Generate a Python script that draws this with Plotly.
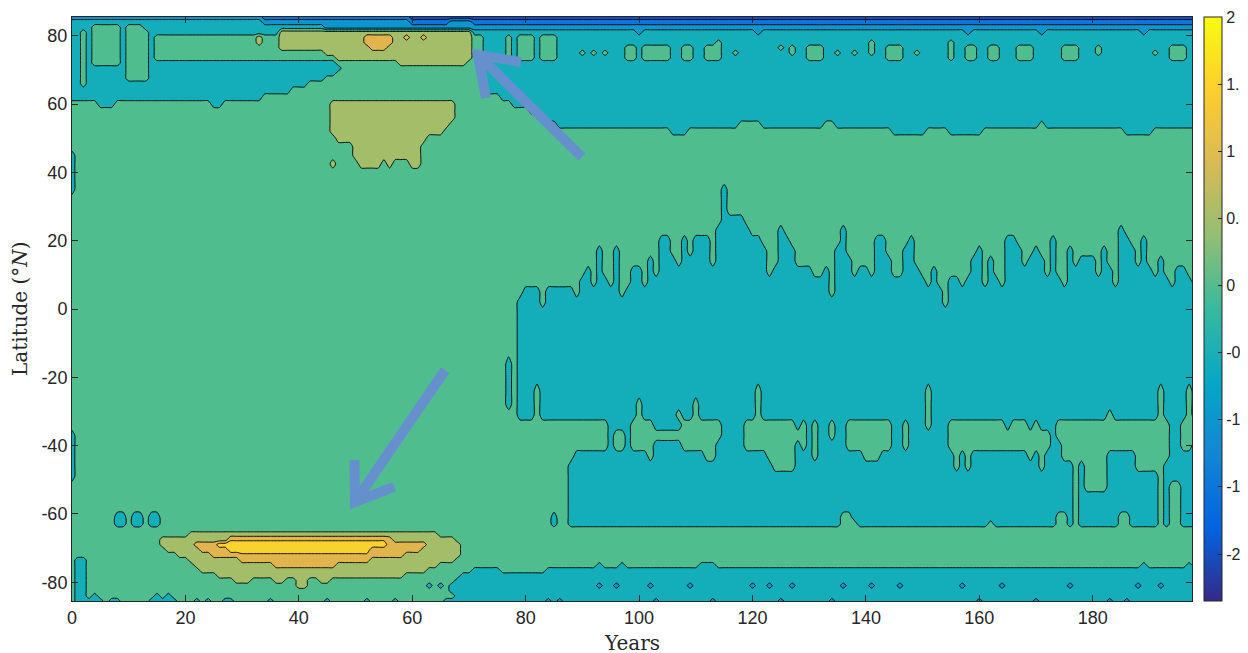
import plotly.graph_objects as go

# ---------------- data ----------------
YEARS = list(range(0, 199))          # model years (columns of the field)

# latitude of each row of the field (north -> south)
LATITUDES = [85.5, 84, 82.5, 81, 79.5, 78, 76.5, 75, 73.5, 72,
             70.5, 69, 67.5, 66, 64, 62, 60, 58, 56, 54,
             52, 50, 47.5, 45, 42.5, 40, 38, 35, 32, 29,
             26, 23, 20, 17, 14, 11, 8, 5, 2, -1,
             -4, -8, -12, -16, -20, -24, -28, -31, -34, -37,
             -40, -43, -46, -49, -52, -55, -58, -61, -63, -64.5,
             -66, -67.5, -69, -70.5, -72, -73.5, -75, -76.5, -78, -79.5,
             -81, -82.5, -84, -85.5]

# value of each band letter (band centres between contour levels; R = orange close to yellow)
BAND_VALUES = {"D": -2.25, "C": -1.75, "B": -1.25, "A": -0.75, "t": -0.25,
               "g": 0.25, "o": 0.75, "r": 1.25, "R": 1.42, "y": 1.75}

# each row: "letter:last_year" runs, read across the picture from year 0 to 198
ROW_BANDS = [
    "A:33 B:59 C:198",                                                        # 85.5
    "t:33 A:59 B:66 A:70 B:198",                                              # 84
    "t:3 g:8 t:9 g:12 t:44 A:198",                                            # 82.5
    "t:1 g:2 t:3 g:8 t:9 g:13 t:36 o:70 t:99 A:100 t:120 A:121 t:157 A:158 t:170 A:171 t:188 A:189 t:198",  # 81
    "t:1 g:2 t:3 g:8 t:9 g:13 t:14 g:32 o:33 g:36 o:51 r:56 o:58 r:59 o:61 r:62 o:70 g:72 t:76 g:77 t:78 g:81 t:82 g:85 t:198",  # 79.5
    "t:1 g:2 t:3 g:8 t:9 g:13 t:14 g:32 o:33 g:36 o:51 r:56 o:70 g:72 t:76 g:77 t:78 g:81 t:82 g:85 t:113 g:114 t:140 g:141 t:154 g:155 t:198",  # 78
    "t:1 g:2 t:3 g:8 t:9 g:13 t:14 g:36 o:52 r:55 o:70 g:72 t:76 g:77 t:78 g:81 t:82 g:85 t:97 g:99 t:100 g:105 t:107 g:109 t:111 g:114 t:124 g:125 t:126 g:127 t:129 g:132 t:140 g:141 t:143 g:146 t:154 g:155 t:157 g:159 t:161 g:163 t:166 g:169 t:174 g:177 t:180 g:181 t:193 g:196 t:198",  # 76.5
    "t:1 g:2 t:3 g:8 t:9 g:13 t:14 g:44 o:70 g:72 t:76 g:77 t:78 g:81 t:82 g:85 t:89 g:90 t:91 g:92 t:93 g:94 t:97 g:99 t:100 g:105 t:107 g:109 t:111 g:114 t:116 g:117 t:126 g:127 t:129 g:132 t:134 g:135 t:137 g:138 t:140 g:141 t:143 g:146 t:148 g:149 t:154 g:155 t:157 g:159 t:161 g:163 t:166 g:169 t:174 g:177 t:180 g:181 t:190 g:191 t:193 g:196 t:198",  # 75
    "t:1 g:2 t:3 g:8 t:9 g:13 t:14 g:46 o:70 g:72 t:76 g:77 t:78 g:81 t:82 g:85 t:97 g:99 t:100 g:105 t:107 g:109 t:111 g:114 t:129 g:132 t:143 g:146 t:154 g:155 t:157 g:159 t:161 g:163 t:166 g:169 t:174 g:177 t:193 g:196 t:198",  # 73.5
    "t:1 g:2 t:3 g:8 t:9 g:13 t:46 g:57 o:69 g:72 t:198",                     # 72
    "t:1 g:2 t:9 g:13 t:47 g:72 t:198",                                       # 70.5
    "t:1 g:2 t:9 g:13 t:46 g:72 t:198",                                       # 69
    "t:1 g:2 t:9 g:13 t:44 g:72 t:198",                                       # 67.5
    "t:1 g:2 t:41 g:72 t:198",                                                # 66
    "t:38 g:72 t:198",                                                        # 64
    "t:33 g:75 t:198",                                                        # 62
    "g:4 t:7 g:24 t:26 g:45 o:67 g:77 t:198",                                 # 60
    "g:45 o:67 g:80 t:198",                                                   # 58
    "g:45 o:67 g:83 t:198",                                                   # 56
    "g:45 o:66 g:85 t:117 g:121 t:132 g:134 t:170 g:171 t:198",               # 54
    "g:45 o:65 g:105 t:108 g:144 t:150 g:154 t:160 g:185 t:190 g:198",        # 52
    "g:46 o:62 g:198",                                                        # 50
    "g:49 o:61 g:198",                                                        # 47.5
    "t:0 g:49 o:61 g:198",                                                    # 45
    "t:0 g:45 o:46 g:50 o:54 g:55 o:56 g:59 o:61 g:198",                      # 42.5
    "t:0 g:198",                                                              # 40
    "t:0 g:198",                                                              # 38
    "t:0 g:114 t:115 g:198",                                                  # 35
    "g:114 t:115 g:198",                                                      # 32
    "g:114 t:115 g:198",                                                      # 29
    "g:114 t:118 g:198",                                                      # 26
    "g:113 t:119 g:124 t:125 g:135 t:136 g:184 t:185 g:198",                  # 23
    "g:103 t:105 g:107 t:108 g:109 t:112 g:113 t:121 g:124 t:126 g:135 t:136 g:141 t:143 g:147 t:148 g:164 t:166 g:172 t:173 g:184 t:186 g:188 t:189 g:198",  # 20
    "g:92 t:93 g:95 t:96 g:103 t:105 g:107 t:108 g:109 t:112 g:113 t:122 g:124 t:127 g:134 t:136 g:141 t:143 g:146 t:148 g:159 t:160 g:164 t:167 g:169 t:170 g:172 t:173 g:175 t:176 g:181 t:182 g:184 t:187 g:188 t:189 g:198",  # 17
    "g:92 t:93 g:95 t:96 g:101 t:102 g:103 t:106 g:107 t:112 g:113 t:122 g:124 t:127 g:134 t:137 g:141 t:144 g:146 t:148 g:158 t:160 g:161 t:162 g:164 t:167 g:168 t:171 g:172 t:173 g:175 t:176 g:177 t:180 g:181 t:182 g:184 t:187 g:188 t:189 g:191 t:192 g:198",  # 14
    "g:90 t:91 g:92 t:93 g:95 t:96 g:98 t:100 g:101 t:102 g:103 t:122 g:123 t:130 g:132 t:133 g:134 t:137 g:138 t:140 g:141 t:144 g:146 t:149 g:151 t:152 g:158 t:160 g:161 t:162 g:164 t:171 g:172 t:173 g:175 t:180 g:181 t:183 g:184 t:190 g:191 t:192 g:194 t:196 g:198",  # 11
    "g:89 t:91 g:92 t:94 g:95 t:96 g:98 t:100 g:101 t:133 g:134 t:150 g:151 t:152 g:154 t:156 g:157 t:160 g:161 t:163 g:164 t:174 g:175 t:183 g:184 t:193 g:194 t:197 g:198",  # 8
    "g:79 t:82 g:83 t:88 g:89 t:96 g:97 t:133 g:134 t:153 g:154 t:198",       # 5
    "g:78 t:82 g:83 t:153 g:154 t:198",                                       # 2
    "g:78 t:198",                                                             # -1
    "g:78 t:198",                                                             # -4
    "g:78 t:198",                                                             # -8
    "g:78 t:198",                                                             # -12
    "g:76 t:77 g:78 t:198",                                                   # -16
    "g:76 t:77 g:78 t:198",                                                   # -20
    "g:76 t:77 g:78 t:81 g:82 t:120 g:121 t:150 g:151 t:191 g:192 t:196 g:197 t:198",  # -24
    "g:76 t:77 g:78 t:81 g:82 t:99 g:100 t:109 g:110 t:120 g:121 t:150 g:151 t:191 g:192 t:196 g:197 t:198",  # -28
    "g:78 t:81 g:82 t:99 g:100 t:106 g:107 t:109 g:110 t:120 g:121 t:150 g:151 t:182 g:183 t:191 g:192 t:196 g:197 t:198",  # -31
    "g:94 t:98 g:102 t:107 g:114 t:118 g:127 t:128 g:129 t:130 g:131 t:133 g:134 t:136 g:144 t:146 g:147 t:150 g:151 t:154 g:164 t:165 g:168 t:169 g:170 t:173 g:193 t:195 g:198",  # -34
    "t:0 g:94 t:95 g:97 t:98 g:114 t:118 g:129 t:130 g:131 t:133 g:134 t:136 g:144 t:146 g:147 t:154 g:172 t:173 g:193 t:195 g:198",  # -37
    "t:0 g:94 t:95 g:97 t:98 g:102 t:107 g:113 t:118 g:127 t:128 g:129 t:130 g:131 t:136 g:144 t:146 g:147 t:154 g:172 t:174 g:193 t:195 g:197 t:198",  # -40
    "t:0 g:88 t:101 g:102 t:111 g:113 t:122 g:127 t:130 g:131 t:139 g:142 t:155 g:156 t:157 g:158 t:168 g:169 t:170 g:171 t:174 g:182 t:187 g:193 t:198",  # -43
    "t:0 g:87 t:123 g:127 t:155 g:156 t:157 g:158 t:170 g:171 t:176 g:177 t:178 g:182 t:187 g:192 t:198",  # -46
    "t:0 g:87 t:176 g:177 t:178 g:182 t:191 g:192 t:198",                     # -49
    "g:87 t:176 g:177 t:178 g:182 t:191 g:192 t:193 g:195 t:198",             # -52
    "g:87 t:176 g:177 t:191 g:192 t:193 g:195 t:198",                         # -55
    "g:87 t:176 g:177 t:191 g:192 t:193 g:195 t:198",                         # -58
    "g:7 t:9 g:10 t:12 g:13 t:15 g:84 t:85 g:87 t:135 g:137 t:173 g:175 t:176 g:177 t:184 g:186 t:191 g:192 t:193 g:195 t:198",  # -61
    "g:7 t:9 g:10 t:12 g:13 t:15 g:84 t:85 g:87 t:135 g:138 t:161 g:162 t:173 g:175 t:176 g:177 t:184 g:186 t:191 g:192 t:193 g:195 t:198",  # -63
    "g:198",                                                                  # -64.5
    "g:20 o:64 g:198",                                                        # -66
    "g:15 o:27 R:55 r:56 o:67 g:198",                                         # -67.5
    "g:15 o:21 r:25 y:55 r:62 o:68 g:198",                                    # -69
    "g:16 o:22 r:27 y:52 r:61 o:68 g:198",                                    # -70.5
    "g:18 o:24 r:29 R:52 r:58 o:68 g:198",                                    # -72
    "g:0 t:2 g:20 o:29 r:52 o:67 g:198",                                      # -73.5
    "g:0 t:2 g:21 o:35 r:46 o:64 g:92 t:93 g:96 t:97 g:110 t:113 g:188 t:189 g:196 t:197 g:198",  # -75
    "g:0 t:2 g:22 o:62 g:70 t:75 g:83 t:198",                                 # -76.5
    "g:0 t:2 g:25 o:58 g:68 t:198",                                           # -78
    "g:0 t:2 g:28 o:31 g:35 o:37 g:39 o:41 g:43 o:45 g:67 t:198",             # -79.5
    "g:0 t:2 g:39 o:41 g:62 t:63 g:64 t:65 g:66 t:92 A:93 t:95 A:96 t:101 A:102 t:108 A:109 t:119 A:120 t:122 A:123 t:126 A:127 t:135 A:136 t:140 A:141 t:145 A:146 t:156 A:157 t:163 A:164 t:175 A:176 t:187 A:188 t:191 A:192 t:198",  # -81
    "g:0 t:2 g:66 t:198",                                                     # -82.5
    "g:0 t:2 g:3 t:4 g:14 t:15 g:16 t:17 g:67 t:198",                         # -84
    "g:0 t:5 g:6 t:8 g:13 t:18 g:21 t:22 g:23 t:24 g:26 t:28 g:34 t:35 g:44 t:45 g:51 t:52 g:56 t:57 g:65 t:83 A:84 t:85 A:86 t:102 A:103 t:112 A:113 t:124 A:125 t:133 A:134 t:159 A:160 t:169 A:170 t:182 A:183 t:185 A:186 t:198",  # -85.5
]

LEVEL_START, LEVEL_END, LEVEL_STEP = -2.0, 2.0, 0.5
# fill colour of each band, from below -2 up to above 2 (parula at lower level)
BAND_COLORS = ["rgb(53,42,135)", "rgb(21,79,193)", "rgb(13,118,218)", "rgb(13,149,205)",
               "rgb(20,174,186)", "rgb(80,189,143)", "rgb(163,189,104)", "rgb(225,180,78)",
               "rgb(250,210,45)", "rgb(249,251,14)"]
PARULA = ["#352a87", "#0363e1", "#1485d4", "#06a7c6", "#38b99e",
          "#92bf73", "#d9ba56", "#fcce2e", "#f9fb0e"]
CBAR_MIN, CBAR_MAX = -2.35, 2.0
CBAR_TICKS = [-2, -1.5, -1, -0.5, 0, 0.5, 1, 1.5, 2]
CBAR_LABELS = ["-2", "-1.5", "-1", "-0.5", "0", "0.5", "1", "1.5", "2"]
X_TICKS = [0, 20, 40, 60, 80, 100, 120, 140, 160, 180]
Y_TICKS = [-80, -60, -40, -20, 0, 20, 40, 60, 80]
Y_LABELS = ["-80", "-60", "-40", "-20", "0", "20", "40", "60", "80"]

# arrows (annotation overlay): tail, tip, and the two head-wing ends, in (year, latitude)
ARROW_TAILS = [(89.9, 44.5), (65.8, -17.9)]
ARROW_TIPS = [(71.6, 74.4), (49.9, -56.5)]
ARROW_WINGS = [((73.0, 61.8), (79.2, 72.3)), ((56.8, -52.1), (49.8, -44.2))]
ARROW_COLOR = "rgb(102,143,206)"


# ---------------- build field ----------------
def decode(spec):
    row = []
    for tok in spec.split():
        code, last = tok.split(":")
        last = int(last)
        n = last + 1 - len(row)
        assert n > 0, (spec, tok)
        row.extend([BAND_VALUES[code]] * n)
    assert len(row) == len(YEARS), (spec, len(row))
    return row


assert len(LATITUDES) == len(ROW_BANDS)
Z = [decode(s) for s in ROW_BANDS]
lats = LATITUDES[::-1]
Z = Z[::-1]

nb = len(BAND_COLORS)
band_scale = [[k / (nb - 1), c] for k, c in enumerate(BAND_COLORS)]
parula_scale = [[k / (len(PARULA) - 1), c] for k, c in enumerate(PARULA)]

AX = "#262626"
fig = go.Figure()
fig.add_trace(go.Contour(
    x=YEARS, y=lats, z=Z,
    autocontour=False,
    contours=dict(start=LEVEL_START, end=LEVEL_END, size=LEVEL_STEP,
                  coloring="fill", showlines=True),
    line=dict(color="black", width=0.9, smoothing=0.6),
    colorscale=band_scale, showscale=False, hoverinfo="skip",
))

# continuous colour bar
fig.add_trace(go.Scatter(
    x=[100], y=[0], mode="markers", hoverinfo="skip", showlegend=False,
    marker=dict(size=1, opacity=0, color=[0], colorscale=parula_scale,
                cmin=CBAR_MIN, cmax=CBAR_MAX, showscale=True,
                colorbar=dict(x=(1204 - 72) / 1120, xanchor="left", xpad=0,
                              y=0.5, yanchor="middle", ypad=0,
                              len=1, lenmode="fraction",
                              thickness=18, thicknessmode="pixels",
                              outlinewidth=1, outlinecolor=AX,
                              ticks="inside", ticklen=4, tickcolor=AX,
                              tickvals=CBAR_TICKS, ticktext=CBAR_LABELS,
                              tickfont=dict(family="Liberation Sans, Arial, sans-serif",
                                            size=16, color=AX))),
))

shapes = []
for tail, tip, (w1, w2) in zip(ARROW_TAILS, ARROW_TIPS, ARROW_WINGS):
    shapes.append(dict(type="line", xref="x", yref="y", x0=tail[0], y0=tail[1],
                       x1=tip[0], y1=tip[1], line=dict(color=ARROW_COLOR, width=10),
                       layer="above"))
    shapes.append(dict(type="path", xref="x", yref="y",
                       path=f"M {w1[0]},{w1[1]} L {tip[0]},{tip[1]} L {w2[0]},{w2[1]}",
                       line=dict(color=ARROW_COLOR, width=10), layer="above"))

axis_common = dict(showgrid=False, zeroline=False, showline=True, linecolor=AX,
                   linewidth=1, mirror="ticks", ticks="inside", ticklen=6,
                   tickwidth=1, tickcolor=AX, automargin=False,
                   tickfont=dict(family="Liberation Sans, Arial, sans-serif",
                                 size=18, color=AX))

# the page adds an 8 px body margin, so the plot box is set 8 px up/left
fig.update_layout(
    width=1248, height=653,
    margin=dict(l=64, r=64, t=9, b=60, autoexpand=False),
    paper_bgcolor="white", plot_bgcolor="white",
    xaxis=dict(range=[0, 197.5], tickvals=X_TICKS, **axis_common),
    yaxis=dict(range=[-85.5, 85.5], tickvals=Y_TICKS, ticktext=Y_LABELS, **axis_common),
    shapes=shapes,
    annotations=[
        dict(text="Years", xref="paper", yref="paper", x=0.5, y=-(643 - 601) / 584,
             xanchor="center", yanchor="middle", showarrow=False,
             font=dict(family="DejaVu Serif, Liberation Serif, serif", size=20, color=AX)),
        dict(text="Latitude (°<i>N</i>)", xref="paper", yref="paper",
             x=(20 - 72) / 1120, y=0.5, xanchor="center", yanchor="middle",
             textangle=-90, showarrow=False,
             font=dict(family="DejaVu Serif, Liberation Serif, serif", size=20, color=AX)),
    ],
    showlegend=False,
)

fig.write_html("out.html")
